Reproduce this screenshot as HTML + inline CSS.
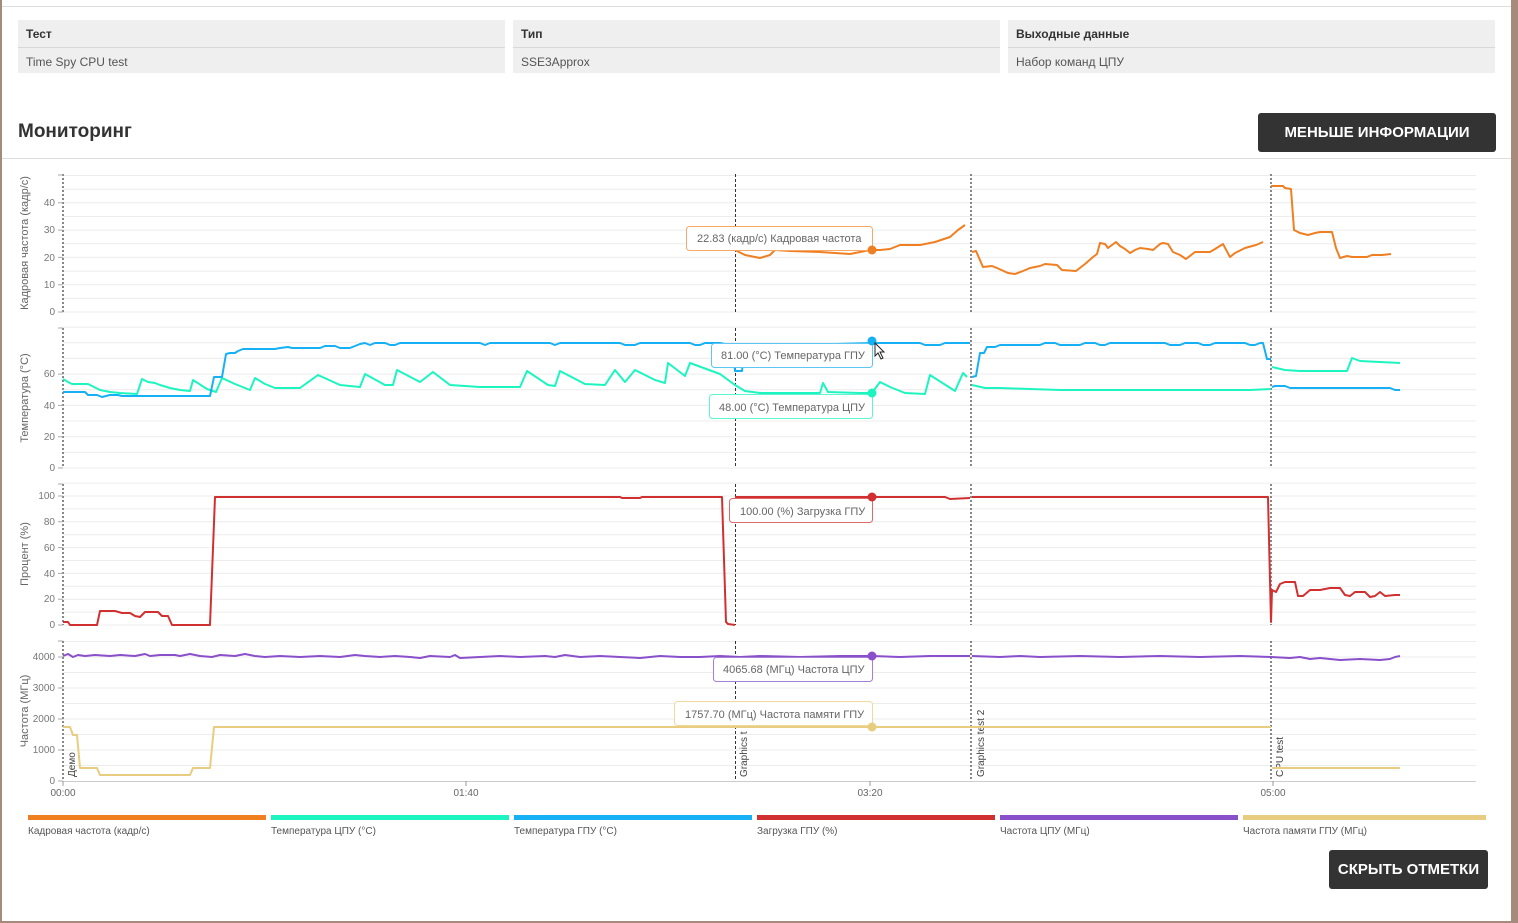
<!DOCTYPE html>
<html><head><meta charset="utf-8">
<style>
html,body{margin:0;padding:0;}
body{width:1518px;height:923px;background:#a88a7c;position:relative;overflow:hidden;font-family:"Liberation Sans","DejaVu Sans",sans-serif;}
#panel{position:absolute;left:2px;top:0;width:1509px;height:921px;background:#fff;}
.cell{position:absolute;top:20px;height:53px;background:#efefef;}
.cell .h{position:absolute;left:8px;top:7px;font-size:12px;font-weight:bold;color:#333;}
.cell .d{position:absolute;left:0;right:0;top:27px;border-top:1px solid #d8d8d8;}
.cell .v{position:absolute;left:8px;top:35px;font-size:12px;color:#555;}
.btn{position:absolute;background:#333;color:#fff;border-radius:3px;font-weight:bold;font-size:15px;text-align:center;}
svg text{font-family:"Liberation Sans","DejaVu Sans",sans-serif;}
</style></head><body>
<div id="panel">
<div style="position:absolute;left:0;right:0;top:6px;border-top:1px solid #ddd"></div>
<div class="cell" style="left:16px;width:487px"><div class="h">Тест</div><div class="d"></div><div class="v">Time Spy CPU test</div></div>
<div class="cell" style="left:511px;width:487px"><div class="h">Тип</div><div class="d"></div><div class="v">SSE3Approx</div></div>
<div class="cell" style="left:1006px;width:487px"><div class="h">Выходные данные</div><div class="d"></div><div class="v">Набор команд ЦПУ</div></div>
<div style="position:absolute;left:16px;top:121px;font-size:19px;font-weight:bold;color:#333">Мониторинг</div>
<div class="btn" style="left:1256px;top:113px;width:238px;height:39px;line-height:39px">МЕНЬШЕ ИНФОРМАЦИИ</div>
<div style="position:absolute;left:0;right:0;top:158px;border-top:1px solid #ddd"></div>
<div class="btn" style="left:1327px;top:850px;width:159px;height:39px;line-height:39px">СКРЫТЬ ОТМЕТКИ</div>
</div>
<svg width="1518" height="923" style="position:absolute;left:0;top:0" xmlns="http://www.w3.org/2000/svg">
<g stroke="#ececec" stroke-width="1" fill="none">
<path d="M63 312H1476M63 298.4H1476M63 284.7H1476M63 271.1H1476M63 257.4H1476M63 243.8H1476M63 230.1H1476M63 216.5H1476M63 202.8H1476M63 189.2H1476M63 175.5H1476"/>
<path d="M63 468H1476M63 452.3H1476M63 436.7H1476M63 421H1476M63 405.4H1476M63 389.7H1476M63 374.1H1476M63 358.4H1476M63 342.8H1476M63 327.1H1476"/>
<path d="M63 625H1476M63 612.1H1476M63 599.2H1476M63 586.3H1476M63 573.4H1476M63 560.5H1476M63 547.6H1476M63 534.7H1476M63 521.8H1476M63 508.9H1476M63 496H1476M63 483.1H1476"/>
<path d="M63 765.5H1476M63 750H1476M63 734.5H1476M63 719H1476M63 703.5H1476M63 688H1476M63 672.5H1476M63 657H1476M63 641.5H1476"/>
</g>
<path d="M63 781.5H1476" stroke="#ccc"/>
<g stroke="#999" stroke-width="1"><path d="M63 781v5M466 781v5M870 781v5M1273 781v5"/></g>
<g font-size="10" fill="#666" text-anchor="middle"><text x="63" y="796">00:00</text><text x="466" y="796">01:40</text><text x="870" y="796">03:20</text><text x="1273" y="796">05:00</text></g>
<!-- y axes -->
<g stroke="#888" stroke-width="2" stroke-dasharray="2,2" fill="none">
<path d="M63 174V312M63 328V468M63 484V625M63 641V781"/>
<path d="M971 174V312M971 328V468M971 484V625M971 641V781"/>
<path d="M1271 174V312M1271 328V468M1271 484V625M1271 641V781"/>
</g>
<g stroke="#333" stroke-width="1" stroke-dasharray="3,2" fill="none">
<path d="M735.5 174V312M735.5 328V468M735.5 484V625M735.5 641V781"/>
</g>
<g stroke="#aaa"><path d="M58 312H63M58 284.7H63M58 257.4H63M58 230.1H63M58 202.8H63M58 175H63M58 468H63M58 436.7H63M58 405.4H63M58 374.1H63M58 328H63M58 625H63M58 599.2H63M58 573.4H63M58 547.6H63M58 521.8H63M58 496H63M58 484H63M58 781H63M58 750H63M58 719H63M58 688H63M58 657H63M58 641H63"/></g>
<g font-size="10" fill="#777" text-anchor="end">
<text x="55" y="315">0</text><text x="55" y="288">10</text><text x="55" y="261">20</text><text x="55" y="233">30</text><text x="55" y="206">40</text>
<text x="55" y="471">0</text><text x="55" y="440">20</text><text x="55" y="409">40</text><text x="55" y="377">60</text>
<text x="55" y="628">0</text><text x="55" y="602">20</text><text x="55" y="577">40</text><text x="55" y="551">60</text><text x="55" y="525">80</text><text x="55" y="499">100</text>
<text x="55" y="784">0</text><text x="55" y="753">1000</text><text x="55" y="722">2000</text><text x="55" y="691">3000</text><text x="55" y="660">4000</text>
</g>
<g font-size="11" fill="#666" text-anchor="middle">
<text transform="translate(28,243) rotate(-90)">Кадровая частота (кадр/с)</text>
<text transform="translate(28,398) rotate(-90)">Температура (°C)</text>
<text transform="translate(28,554) rotate(-90)">Процент (%)</text>
<text transform="translate(28,711) rotate(-90)">Частота (МГц)</text>
</g>
<g font-size="10" fill="#444">
<text transform="translate(75,777) rotate(-90)">Демо</text>
<text transform="translate(747,777) rotate(-90)">Graphics t</text>
<text transform="translate(984,777) rotate(-90)">Graphics test 2</text>
<text transform="translate(1283,777) rotate(-90)">CPU test</text>
</g>
<g fill="none" stroke-width="2" stroke-linejoin="round">
<!-- FPS -->
<g stroke="#f07f22">
<polyline points="735,250 745,255 760,258 770,255 775,250 790,251 820,252 850,254 870,250 880,250 890,249 900,245 920,245 935,242 950,237 958,230 965,225"/>
<polyline points="972,252 976,251 983,267 992,266 997,268 1008,273 1015,274 1023,271 1030,268 1040,266 1045,264 1057,265 1062,270 1076,271 1085,264 1093,257 1097,254 1100,243 1105,244 1108,248 1116,242 1120,246 1125,249 1130,253 1135,250 1140,248 1148,249 1153,250 1160,244 1163,243 1168,244 1173,252 1180,255 1186,259 1195,252 1210,252 1215,249 1223,244 1230,257 1235,253 1245,248 1256,245 1263,242"/>
<polyline points="1271,186 1283,186 1285,188 1291,189 1294,230 1300,233 1308,235 1315,233 1320,232 1332,232 1336,248 1340,258 1347,256 1352,257 1367,257 1372,255 1382,255 1391,254"/>
</g>
<!-- CPU temp -->
<g stroke="#1df5c0">
<polyline points="63,379 68,382 72,384 88,384 92,386 100,390 110,392 120,393 137,394 142,379 148,382 155,383 160,385 170,388 180,390 190,391 193,380 207,389 216,392 222,378 235,384 250,390 255,378 265,384 275,388 300,388 318,375 340,385 360,387 365,374 385,385 393,385 397,370 420,382 433,372 450,385 480,387 510,387 520,387 527,371 548,385 555,386 560,371 585,384 605,385 615,370 625,382 635,370 655,380 665,383 668,363 685,376 690,363 720,374 735,385 745,391 760,393 820,393 823,383 828,392 860,393 872,393 880,382 890,387 905,393 925,394 930,375 955,391 963,373 967,377"/>
<polyline points="972,385 985,388 1000,388 1030,389 1060,390 1250,390 1271,389"/>
<polyline points="1272,367 1285,370 1300,371 1347,371 1352,358 1360,361 1380,362 1400,363"/>
</g>
<!-- GPU temp -->
<g stroke="#16b0f5">
<polyline points="63,392 85,392 88,395 97,395 102,397 110,395 118,395 122,396 210,396 214,377 222,377 226,354 230,353 235,353 238,351 243,349 275,349 280,348 288,347 292,348 320,348 325,346 335,346 340,348 350,348 355,346 360,344 365,343 370,345 375,343 385,343 390,345 395,345 400,343 480,343 485,345 490,343 550,343 555,345 560,343 620,343 625,345 635,345 640,343 690,343 695,345 700,345 705,343 720,343 725,344 733,344 735,371 742,371 745,345 800,345 872,343 920,343 925,345 940,345 945,343 970,343"/>
<polyline points="972,377 976,376 980,353 984,353 987,347 995,347 1000,345 1040,345 1045,343 1055,343 1060,345 1080,345 1085,343 1095,343 1100,345 1105,345 1110,343 1165,343 1170,345 1180,345 1185,343 1198,343 1203,345 1210,345 1215,343 1245,343 1250,345 1255,345 1260,343 1263,343 1267,359 1271,359"/>
<polyline points="1272,387 1275,386 1285,386 1290,388 1390,388 1395,390 1400,390"/>
</g>
<!-- GPU load -->
<polyline stroke="#d13031" points="63,622 68,622 70,625 97,625 100,611 115,611 122,613 130,613 135,616 140,617 145,612 158,612 162,616 168,616 172,625 210,625 215,497 620,497 622,498 640,498 642,497 722,497 726,622 728,624 735,625"/>
<polyline stroke="#d13031" points="735,497 872,497 945,497 950,499 970,498"/>
<polyline stroke="#d13031" points="972,497 1268,497 1271,622 1272,590 1276,592 1280,584 1285,582 1295,582 1298,596 1303,596 1310,590 1320,590 1330,588 1340,588 1345,595 1350,596 1355,592 1365,592 1370,597 1375,596 1380,592 1385,596 1395,595 1400,595"/>
<!-- CPU freq -->
<polyline stroke="#8a4fcb" points="63,656 68,654 73,657 78,655 85,656 95,655 110,656 120,655 135,656 145,654 150,656 160,655 175,655 180,656 190,654 200,656 212,657 220,655 235,656 245,654 255,656 265,657 280,656 300,657 320,656 340,657 355,655 365,656 380,657 395,656 410,657 420,658 430,656 450,657 455,655 460,658 480,657 500,656 520,657 545,656 555,657 565,655 580,657 600,656 620,657 640,658 660,656 680,657 700,657 720,656 740,657 760,656 800,657 840,656 872,656 900,657 930,656 970,656"/>
<polyline stroke="#8a4fcb" points="972,656 1000,657 1020,656 1040,657 1080,656 1120,657 1160,656 1200,657 1240,656 1271,657 1290,658 1300,657 1310,659 1320,658 1340,660 1360,659 1380,660 1390,659 1395,657 1400,656"/>
<!-- GPU mem -->
<polyline stroke="#e8cc80" points="63,727 70,727 73,735 77,735 80,768 97,768 100,775 190,775 193,768 210,768 214,727 1271,727"/>
<polyline stroke="#e8cc80" points="1272,768 1400,768"/>
</g>
<!-- tooltips -->
<g font-size="11" fill="#666" stroke-width="1">
<rect x="686.5" y="226.5" width="186" height="24" rx="3" fill="#fff" stroke="#f5a867"/><text x="697" y="242">22.83 (кадр/с) Кадровая частота</text>
<rect x="711.5" y="343.5" width="161" height="24" rx="3" fill="#fff" stroke="#5cc6f5"/><text x="721" y="359">81.00 (°C) Температура ГПУ</text>
<rect x="709.5" y="394.5" width="163" height="24" rx="3" fill="#fff" stroke="#5ef5d2"/><text x="719" y="411">48.00 (°C) Температура ЦПУ</text>
<rect x="729.5" y="498.5" width="143" height="24" rx="3" fill="#fff" stroke="#dd6a6b"/><text x="740" y="515">100.00 (%) Загрузка ГПУ</text>
<rect x="713.5" y="657.5" width="159" height="24" rx="3" fill="#fff" stroke="#a57fd8"/><text x="723" y="673">4065.68 (МГц) Частота ЦПУ</text>
<rect x="674.5" y="701.5" width="198" height="24" rx="3" fill="#fff" stroke="#f0d99b"/><text x="685" y="718">1757.70 (МГц) Частота памяти ГПУ</text>
</g>
<circle cx="872" cy="250" r="4.5" fill="#f07f22"/>
<circle cx="872" cy="341" r="4.5" fill="#16b0f5"/>
<circle cx="872" cy="393" r="4.5" fill="#1df5c0"/>
<circle cx="872" cy="497" r="4.5" fill="#d13031"/>
<circle cx="872" cy="656" r="4.5" fill="#8a4fcb"/>
<circle cx="872" cy="727" r="4.5" fill="#e8cc80"/>
<path d="M875 343v13l3-3 3 6 2-1-3-6h4z" fill="#fff" stroke="#222" stroke-width="1"/>
<!-- legend -->
<rect x="28" y="815" width="238" height="5" fill="#f07f22"/>
<rect x="271" y="815" width="238" height="5" fill="#1df5c0"/>
<rect x="514" y="815" width="238" height="5" fill="#16b0f5"/>
<rect x="757" y="815" width="238" height="5" fill="#d13031"/>
<rect x="1000" y="815" width="238" height="5" fill="#8a4fcb"/>
<rect x="1243" y="815" width="243" height="5" fill="#e8cc80"/>
<g font-size="10" fill="#555">
<text x="28" y="834">Кадровая частота (кадр/с)</text>
<text x="271" y="834">Температура ЦПУ (°C)</text>
<text x="514" y="834">Температура ГПУ (°C)</text>
<text x="757" y="834">Загрузка ГПУ (%)</text>
<text x="1000" y="834">Частота ЦПУ (МГц)</text>
<text x="1243" y="834">Частота памяти ГПУ (МГц)</text>
</g>
</svg>
</body></html>
